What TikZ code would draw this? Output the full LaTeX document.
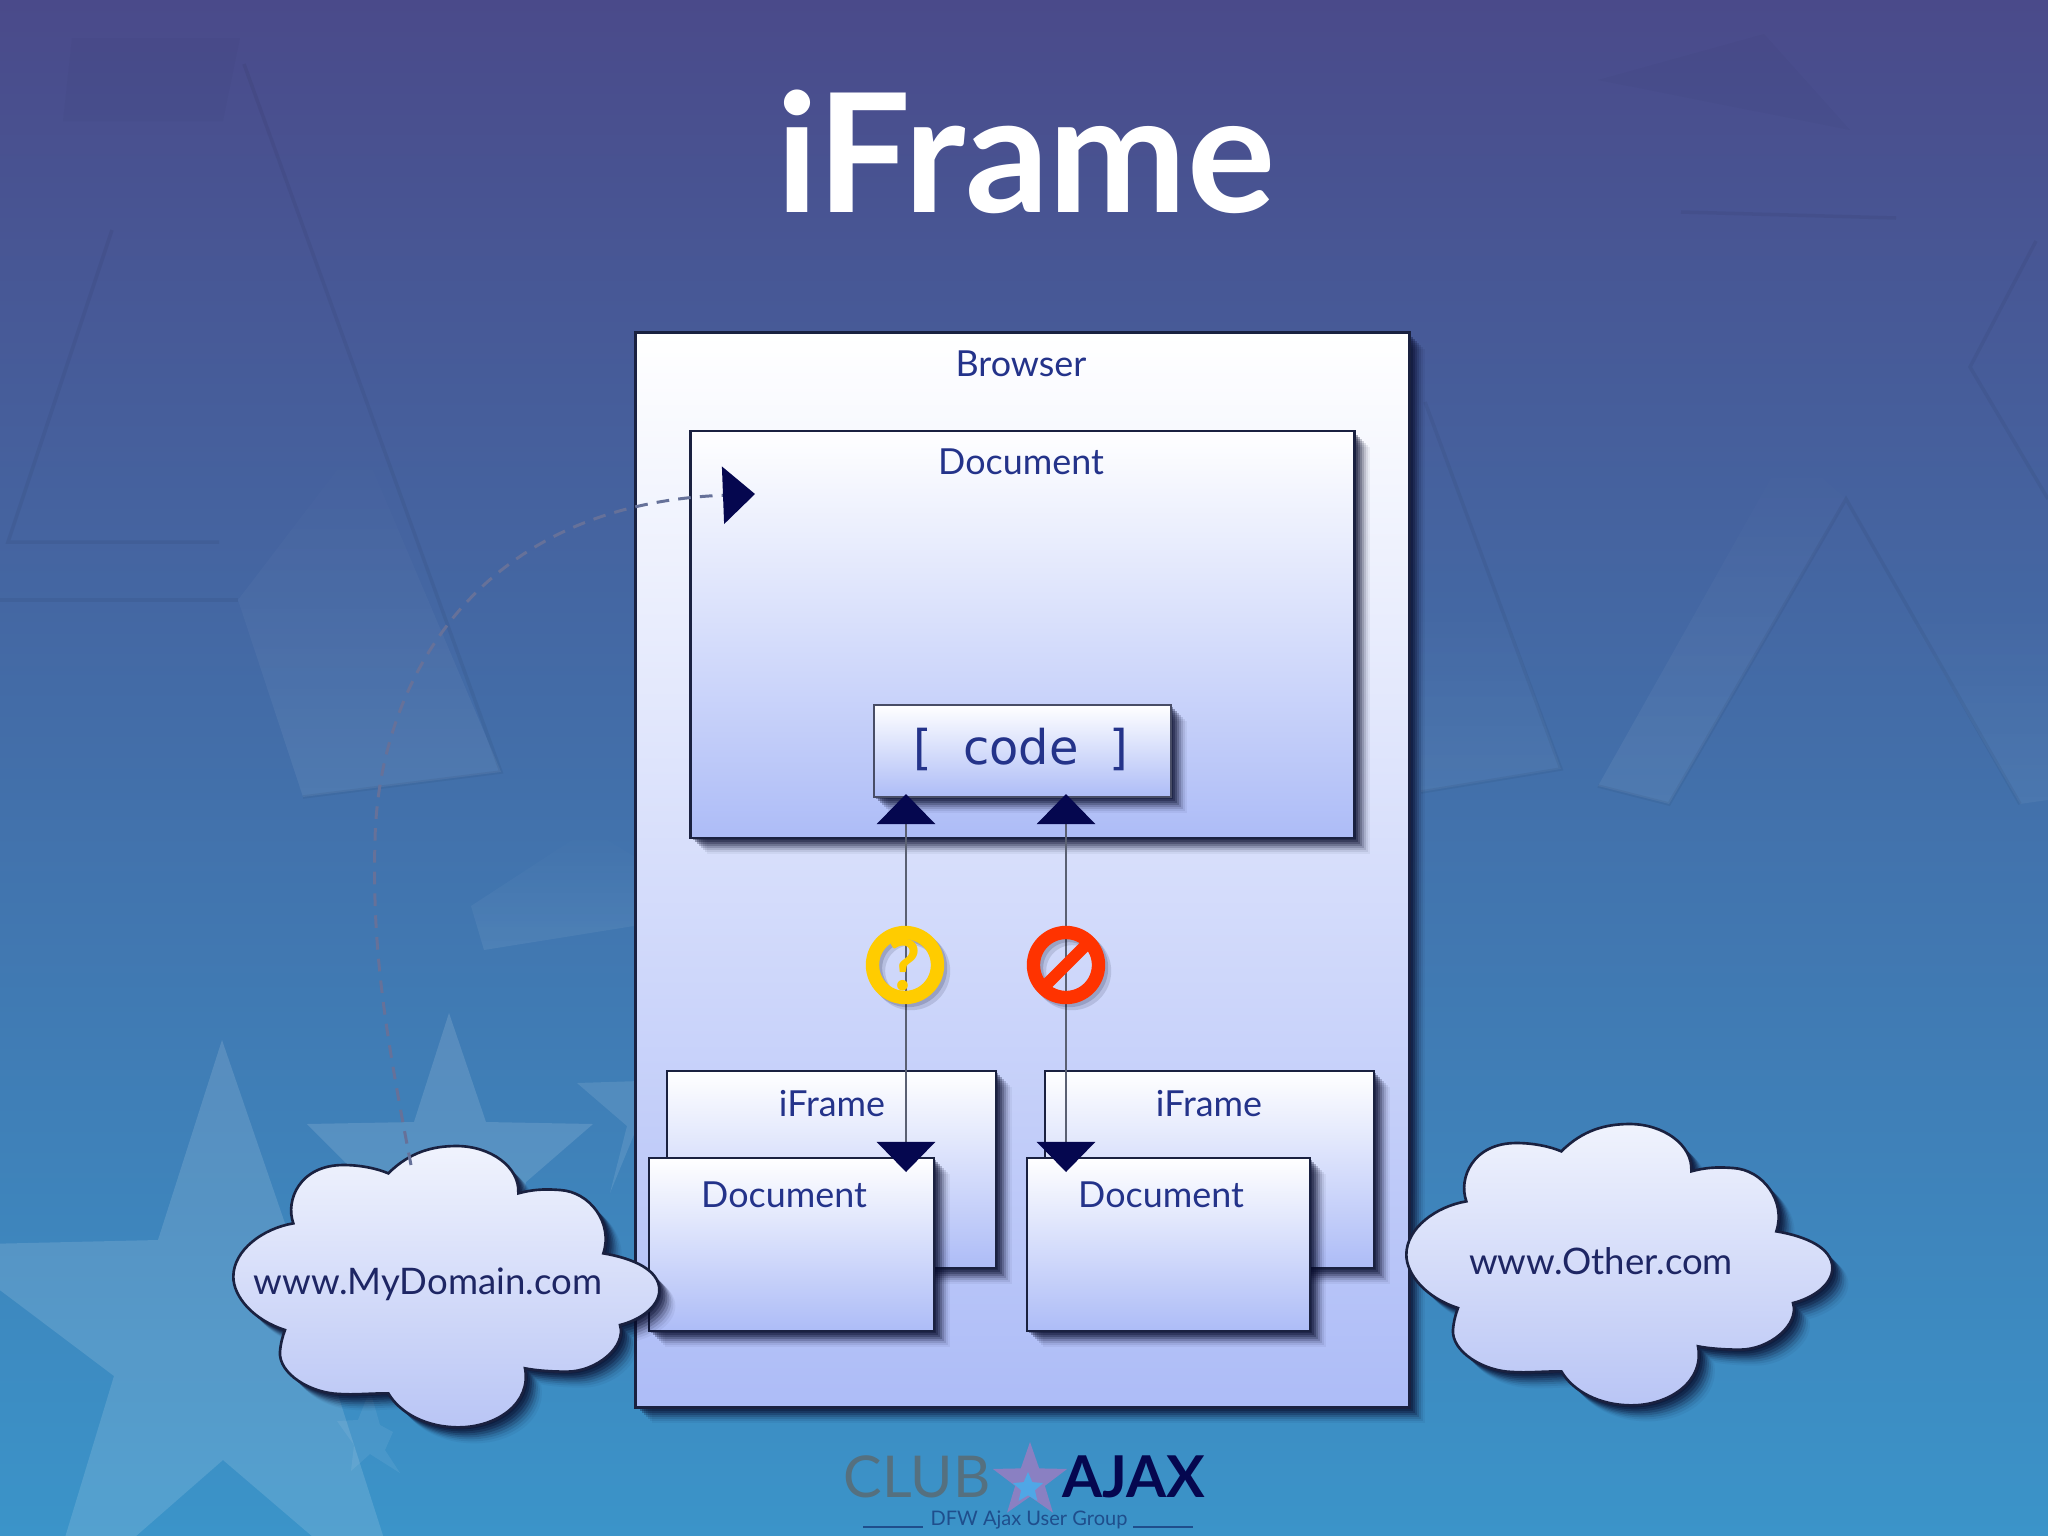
\documentclass[tikz,border=0pt]{standalone}
\usepackage{fontspec}
\setmainfont{Lato}
\newfontfamily\sansfam{DejaVu Sans}
\usetikzlibrary{shadows,arrows.meta,shapes.geometric,fadings}
\tikzfading[name=lowbright,top color=transparent!100,bottom color=transparent!0]
\definecolor{navytip}{HTML}{05074F}
\definecolor{labelblue}{HTML}{24338A}
\definecolor{clouddark}{HTML}{1E2664}
\definecolor{edgedark}{HTML}{1A2140}
\definecolor{shadowdark}{HTML}{080C2C}
\definecolor{connline}{HTML}{5A6072}
\definecolor{dashline}{HTML}{667199}
\definecolor{ringyellow}{HTML}{FFCC00}
\definecolor{ringred}{HTML}{FF3300}
\definecolor{clubgrey}{HTML}{55707F}
\definecolor{dfwblue}{HTML}{1F4E8C}
\definecolor{starpurple}{HTML}{8A80C2}
\definecolor{starcore}{HTML}{4FA7E6}
\newcommand{\fs}[1]{\fontsize{#1}{#1}\selectfont}
\newcommand{\cloudpath}{(505,130) .. controls (570,65) and (640,48) .. (710,48) .. controls (810,48) and (900,110) .. (895,190)
 .. controls (950,175) and (990,178) .. (1020,180) .. controls (1110,185) and (1180,280) .. (1150,370)
 .. controls (1240,385) and (1318,420) .. (1318,480) .. controls (1318,530) and (1260,570) .. (1200,585)
 .. controls (1220,650) and (1130,725) .. (1040,725) .. controls (1000,725) and (950,722) .. (915,715)
 .. controls (935,820) and (830,892) .. (715,892) .. controls (620,892) and (540,850) .. (505,790)
 .. controls (450,790) and (400,795) .. (360,792) .. controls (270,790) and (175,730) .. (180,665) .. controls (182,640) and (188,618) .. (195,600)
 .. controls (100,570) and (40,500) .. (40,440) .. controls (40,360) and (130,295) .. (220,280)
 .. controls (195,210) and (240,105) .. (370,105) .. controls (420,105) and (470,115) .. (505,130) -- cycle}
\tikzset{
  softshadow/.style={
    drop shadow={shadow xshift=.02cm,shadow yshift=-.02cm,opacity=.34,fill=shadowdark},
    drop shadow={shadow xshift=.04cm,shadow yshift=-.04cm,opacity=.32,fill=shadowdark},
    drop shadow={shadow xshift=.06cm,shadow yshift=-.06cm,opacity=.28,fill=shadowdark},
    drop shadow={shadow xshift=.08cm,shadow yshift=-.08cm,opacity=.22,fill=shadowdark},
    drop shadow={shadow xshift=.10cm,shadow yshift=-.10cm,opacity=.17,fill=shadowdark},
    drop shadow={shadow xshift=.12cm,shadow yshift=-.12cm,opacity=.12,fill=shadowdark},
    drop shadow={shadow xshift=.14cm,shadow yshift=-.14cm,opacity=.08,fill=shadowdark},
    drop shadow={shadow xshift=.16cm,shadow yshift=-.16cm,opacity=.05,fill=shadowdark}},
  boxnode/.style={draw=edgedark,line width=.75pt,rectangle,inner sep=0pt,outer sep=0pt,
    top color=white,bottom color=BoxEnd,softshadow},
  boxlabel/.style={text=labelblue,inner sep=0pt,font=\fs{10.2}},
  cloudlabel/.style={text=clouddark,inner sep=0pt,font=\fs{10.4}},
  cloudshape/.style={draw=edgedark,line width=.75pt,top color=CloudTop,bottom color=CloudEnd,softshadow},
  conn/.style={draw=connline,line width=.75pt,
    {Triangle[length=.3cm,width=.58cm,color=navytip]}-{Triangle[length=.3cm,width=.58cm,color=navytip]}},
  dashconn/.style={draw=dashline,line width=.85pt,dash pattern=on 3.6pt off 2.6pt,
    -{Triangle[length=.32cm,width=.57cm,color=navytip]}},
  ringnode/.style={circle,line width=3.8pt,minimum size=.65cm,inner sep=0pt,outer sep=0pt,
    drop shadow={shadow xshift=.03cm,shadow yshift=-.03cm,opacity=.16,fill=none,draw=shadowdark},
    drop shadow={shadow xshift=.06cm,shadow yshift=-.06cm,opacity=.12,fill=none,draw=shadowdark}},
  lightleg/.style={fill=white,fill opacity=#1,draw=none,path fading=lowbright},
  lightleg/.default=.07,
  ghost/.style={draw=black,draw opacity=.05,line width=1pt},
  bigstar/.style={fill=white,fill opacity=#1,draw=none},
  bigstar/.default=.13,
}
\definecolor{BoxEnd}{HTML}{ADBCF7}
\definecolor{CloudTop}{HTML}{F0F3FD}
\definecolor{CloudEnd}{HTML}{B9C5F5}
\definecolor{BgTop}{HTML}{4A4A8A}
\definecolor{BgMid}{HTML}{4274AE}
\definecolor{BgEnd}{HTML}{3B94C9}
\begin{document}
\begin{tikzpicture}[x=.01cm,y=-.01cm]
\useasboundingbox (0,0) rectangle (2048,1536);
% background
\shade[top color=BgTop,middle color=BgMid,bottom color=BgEnd] (0,0) rectangle (2048,1536);
\begin{scope}
\clip (0,0) rectangle (2048,1536);
% faint AJAX letters
\fill[black,fill opacity=.02] (72,38) -- (240,38) -- (223,121) -- (63,121) -- cycle;
\fill[black,fill opacity=.02] (1598,80) -- (1764,34) -- (1850,130) -- cycle;
\path[lightleg] (238,600) -- (303,797) -- (501,772) -- (360,440) -- cycle;
\path[lightleg=.05] (1500,600) -- (1561,769) -- (1421,792) -- (1421,600) -- cycle;
\path[lightleg] (1598,786) -- (1669,804) -- (1846,499) -- (1788,448) -- cycle;
\path[lightleg=.05] (1900,600) -- (2020,804) -- (2048,800) -- (2048,600) -- cycle;
\path[lightleg] (471,906) -- (484,950) -- (640,925) -- (640,860) -- (589,829) -- cycle;
\draw[ghost] (112,230) -- (8,542) -- (219,542);
\draw[ghost] (0,600) -- (238,600);
\draw[ghost] (244,64) -- (501,772) -- (303,797);
\draw[ghost] (1425,402) -- (1561,769) -- (1421,792);
\draw[ghost] (1598,786) -- (1669,804) -- (1846,499) -- (2020,804);
\draw[ghost] (2036,241) -- (1970,367) -- (2048,499);
\draw[ghost] (1681,212) -- (1896,218);
% faint stars
\path[bigstar] (222,1040) -- (290,1238) -- (500,1243) -- (332,1376) -- (410,1620) -- (223,1460) -- (40,1620) -- (114,1376) -- (-60,1245) -- (158,1240) -- cycle;
\path[bigstar] (449,1013) -- (486,1122) -- (593,1124) -- (526,1182) -- (500,1300) -- (449,1260) -- (390,1300) -- (353,1170) -- (307,1124) -- (414,1122) -- cycle;
\path[bigstar=.1] (577,1083) -- (640,1081) -- (640,1120) -- (610,1193) -- (627,1126) -- cycle;
\path[bigstar=.07] (370,1390) -- (380,1425) -- (393,1432) -- (385,1450) -- (400,1473) -- (370,1454) -- (351,1471) -- (354,1445) -- (337,1421) -- (358,1420) -- cycle;
\end{scope}
% title
\node[text=white,inner sep=0pt,anchor=base,font=\fs{47}\bfseries] (title) at (1026,212) {iFrame};
% boxes
\node[boxnode,minimum width=7.73cm,minimum height=10.74cm] (browser) at (1022.5,870) {};
\node[boxlabel] (browserlabel) at (1021,364) {Browser};
\node[boxnode,minimum width=6.63cm,minimum height=4.07cm] (maindoc) at (1022.5,634.5) {};
\node[boxlabel] (maindoclabel) at (1021,462) {Document};
\node[boxnode,minimum width=2.97cm,minimum height=.92cm,draw=edgedark!80] (codebox) at (1022.5,751) {};
\node[text=labelblue,inner sep=0pt,font=\sansfam\fs{13.6}] (codelabel) at (1021,749) {[\hspace{8.9pt}code\hspace{8.9pt}]};
\node[boxnode,minimum width=3.29cm,minimum height=1.97cm] (iframeL) at (831.5,1169.5) {};
\node[boxlabel] (iframeLlabel) at (832,1104) {iFrame};
\node[boxnode,minimum width=2.85cm,minimum height=1.73cm] (docL) at (791.5,1244.5) {};
\node[boxlabel] (docLlabel) at (784,1195) {Document};
\node[boxnode,minimum width=3.29cm,minimum height=1.97cm] (iframeR) at (1209.5,1169.5) {};
\node[boxlabel] (iframeRlabel) at (1209,1104) {iFrame};
\node[boxnode,minimum width=2.83cm,minimum height=1.73cm] (docR) at (1168.5,1244.5) {};
\node[boxlabel] (docRlabel) at (1161,1195) {Document};
% connector ends
\coordinate (codeL) at (906,794);
\coordinate (codeR) at (1066,794);
\coordinate (iframeLend) at (906,1172);
\coordinate (iframeRend) at (1066,1172);
\draw[conn] (iframeLend) -- (codeL);
\draw[conn] (iframeRend) -- (codeR);
% status icons
\node[ringnode,draw=ringyellow] (ask) at (905,965) {};
\node[text=ringyellow,inner sep=0pt,font=\fs{20}\bfseries] (askmark) at (905,965) {?};
\node[ringnode,draw=ringred] (deny) at (1066,965) {};
\draw[ringred,line width=3.4pt] (deny.45) -- (deny.225);
% clouds
\path[shift={(220,1130)},scale=.33333,cloudshape] \cloudpath;
\node[cloudlabel] (mydomain) at (428,1284) {www.MyDomain.com};
\path[shift={(1393,1108)},scale=.33333,cloudshape] \cloudpath;
\node[cloudlabel] (other) at (1601,1261) {www.Other.com};
% dashed connector
\coordinate (cloudtop) at (411,1165);
\coordinate (docmark) at (755,494);
\draw[dashconn] (cloudtop) .. controls (385,1030) and (372,950) .. (375,840) .. controls (378,690) and (470,505) .. (docmark);
% logo
\node[anchor=base,inner sep=0pt,text=clubgrey,font=\fs{16.4}] (club) at (917,1497) {CLUB};
\node[star,star points=5,star point ratio=2.5,minimum size=.78cm,inner sep=0pt,fill=starpurple] (logostar) at (1030,1481) {};
\node[star,star points=5,star point ratio=2.2,minimum size=.32cm,inner sep=0pt,fill=starcore] (logostarcore) at (1028,1488) {};
\node[anchor=base,inner sep=0pt,text=navytip,font=\fs{16.4}\bfseries] (ajax) at (1134,1497) {AJAX};
\node[inner sep=0pt,text=dfwblue,font=\fs{5.7}] (dfw) at (1029,1520) {DFW Ajax User Group};
\draw[dfwblue,line width=.6pt] (863,1527) -- (923,1527);
\draw[dfwblue,line width=.6pt] (1133,1527) -- (1193,1527);
\end{tikzpicture}
\end{document}
